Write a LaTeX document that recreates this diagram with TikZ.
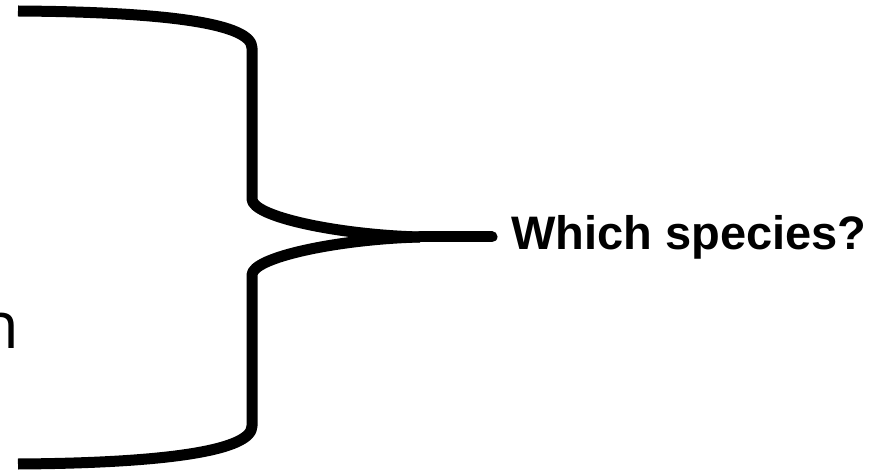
\documentclass[tikz,border=0pt]{standalone}
\usepackage{fontspec}
\setmainfont{Liberation Sans}
\newfontfamily\opensans{Open Sans}
\begin{document}
\begin{tikzpicture}[x=1pt,y=-1pt,
  bracestroke/.style={line width=11pt,line join=round,line cap=butt},
  tipcap/.style={line width=11pt,line cap=round},
  label/.style={inner sep=0pt,font=\fontsize{47}{52}\selectfont\bfseries},
  cutword/.style={inner sep=0pt,font=\opensans\fontsize{65}{70}\selectfont}]
\useasboundingbox (0,0) rectangle (888,470);
\clip (0,0) rectangle (888,470);
\fill[white] (0,0) rectangle (888,470);
% named points of the brace
\coordinate (topend) at (18,11);
\coordinate (topcorner) at (252,48);
\coordinate (midtop) at (252,199);
\coordinate (merge) at (420,237);
\coordinate (tip) at (492,237);
\coordinate (midbot) at (252,275);
\coordinate (botcorner) at (252,426);
\coordinate (botend) at (18,464);
% brace
\draw[bracestroke] (topend) .. controls (170,12) and (252,24) .. (topcorner)
  -- (midtop) .. controls (252,217) and (340,235) .. (merge);
\draw[bracestroke] (botend) .. controls (170,463) and (252,450) .. (botcorner)
  -- (midbot) .. controls (252,257) and (340,239) .. (merge);
\draw[tipcap] (merge) -- (tip);
% text
\node[label,anchor=base west] (q) at (511,250) {Which species?};
\node[cutword,anchor=base east] (n) at (19.7,348) {n};
\end{tikzpicture}
\end{document}
